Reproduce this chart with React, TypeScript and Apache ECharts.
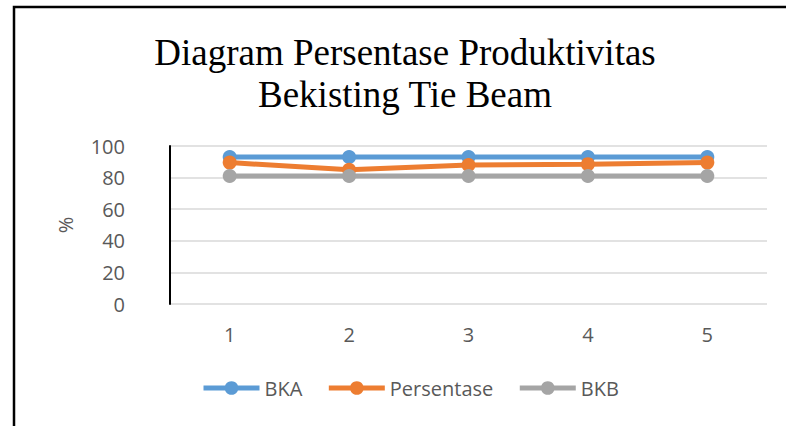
import React, { useEffect, useRef } from "react";
import * as echarts from "echarts";

const categories = ["1", "2", "3", "4", "5"];
const bka = [93, 93, 93, 93, 93];
const persentase = [89.5, 85, 88, 88.5, 89.5];
const bkb = [81, 81, 81, 81, 81];
const seriesNames = ["BKA", "Persentase", "BKB"];
const colors = ["#5B9BD5", "#ED7D31", "#A5A5A5"];
const titleText = "Diagram Persentase Produktivitas\nBekisting Tie Beam";
const yAxisName = "%";

export default function App() {
  const ref = useRef<HTMLDivElement>(null);
  useEffect(() => {
    if (!ref.current) return;
    const chart = echarts.init(ref.current, undefined, { renderer: "svg" });
    const data = [bka, persentase, bkb];
    chart.setOption({
      animation: false,
      backgroundColor: "#ffffff",
      color: colors,
      graphic: [
        {
          type: "rect",
          shape: { x: 14, y: 7, width: 800, height: 440 },
          style: { fill: "none", stroke: "#000000", lineWidth: 2.5 },
          silent: true,
        },
        {
          type: "text",
          x: 405,
          y: 31,
          style: {
            text: titleText,
            font: "37px 'Liberation Serif'",
            fill: "#000000",
            align: "center",
            lineHeight: 42,
          },
        },
      ],
      legend: {
        left: 196,
        top: 373,
        itemWidth: 56,
        itemHeight: 17,
        itemGap: 24,
        lineStyle: { width: 5 },
        textStyle: { fontFamily: "Open Sans", fontSize: 20, color: "#595959" },
        data: seriesNames,
      },
      grid: { left: 170, right: 19, top: 146, bottom: 122 },
      xAxis: {
        type: "category",
        data: categories,
        boundaryGap: true,
        axisLine: { show: false },
        axisTick: { show: false },
        axisLabel: { fontFamily: "Open Sans", fontSize: 20, color: "#595959", margin: 20 },
      },
      yAxis: {
        type: "value",
        min: 0,
        max: 100,
        interval: 20,
        name: yAxisName,
        nameLocation: "middle",
        nameGap: 95,
        nameRotate: 90,
        nameTextStyle: { fontFamily: "Open Sans", fontSize: 20, color: "#595959" },
        axisLine: { show: true, lineStyle: { color: "#000000", width: 2 } },
        axisTick: { show: false },
        axisLabel: { fontFamily: "Open Sans", fontSize: 20, color: "#595959", margin: 45 },
        splitLine: { lineStyle: { color: "#D9D9D9", width: 1.5 } },
      },
      series: seriesNames.map((name, i) => ({
        name,
        type: "line",
        data: data[i],
        symbol: "circle",
        symbolSize: 14,
        lineStyle: { width: 5, color: colors[i] },
        itemStyle: { color: colors[i] },
      })),
    });
    return () => chart.dispose();
  }, []);
  return (
    <div
      ref={ref}
      style={{ position: "absolute", left: 0, top: 0, width: 786, height: 426 }}
    />
  );
}
